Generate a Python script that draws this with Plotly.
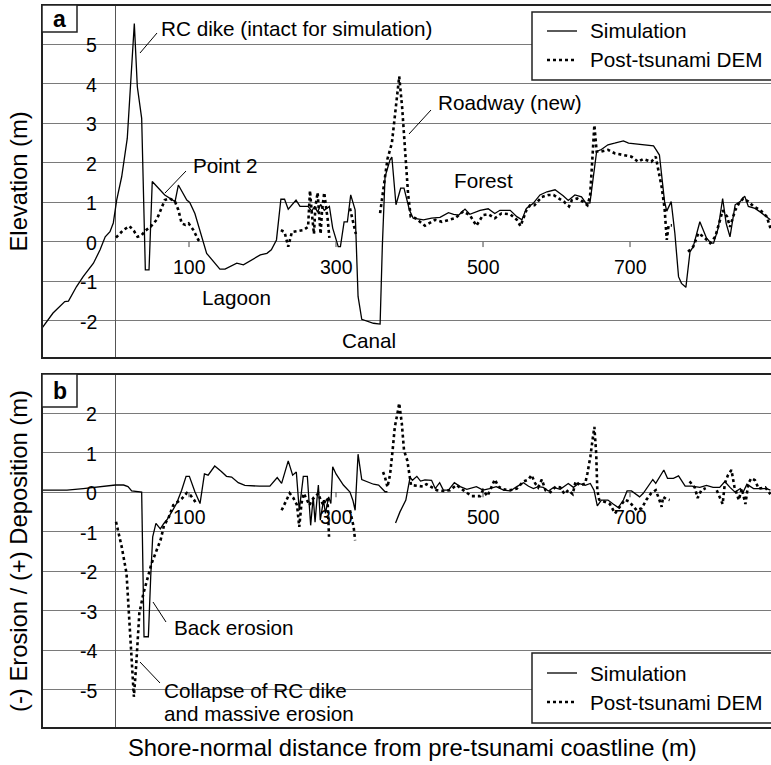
import plotly.graph_objects as go

# ---------------- data ----------------
# Panel a: elevation profile (m)
sim_a_x = [-100, -85, -69, -64, -53, -44, -30, -21, -14, -7.5, -3, 1.6, 8.4, 16, 25.6, 29.7, 35.6, 40.6, 45.6, 50,
           67, 81, 85.5, 97, 101, 108, 124, 142, 149, 165, 174, 186, 197, 206, 212, 219, 225, 230, 235, 245.6,
           251, 262, 267, 271, 275, 279, 284, 291, 295.5, 303, 306, 311, 315.5, 320, 326, 330, 335, 351, 360, 363,
           366.7, 373.5, 376, 381.6, 388, 392.5, 400, 405, 419, 430, 441.5, 453, 460, 467, 475.5, 482, 496, 507, 516, 523,
           537, 546, 553, 559, 568, 577.5, 587, 598, 609, 616, 625, 634, 640, 645.5, 654.6, 661, 670, 679, 691, 698,
           709, 723, 732, 736, 740, 747, 750, 756, 761, 766, 770, 776, 781.6, 786, 795, 804, 810, 813.7, 820, 826,
           830.8, 836, 843, 849.8, 856, 861, 870, 877, 886, 891]
sim_a_y = [-2.18, -1.8, -1.51, -1.5, -1.13, -0.88, -0.54, -0.2, 0.13, 0.26, 0.48, 1.06, 1.65, 2.62, 5.53, 3.93, 3.13, -0.71, -0.71, 1.53,
           1.19, 1.02, 1.44, 1.06, 1.0, 0.72, -0.29, -0.69, -0.69, -0.54, -0.58, -0.45, -0.33, -0.29, -0.2, 0.05, 1.08, 1.08, 0.83, 1.06,
           0.9, 0.9, 0.78, 0.9, 0.75, 0.95, 0.8, 0.9, 0.35, -0.12, -0.12, 0.51, 0.51, 1.19, 0.81, -1.38, -1.96, -2.06, -2.08, -0.12,
           1.65, 2.08, 2.15, 0.94, 1.36, 1.36, 0.8, 0.6, 0.56, 0.6, 0.62, 0.74, 0.7, 0.68, 0.83, 0.7, 0.8, 0.84, 0.72, 0.8,
           0.8, 0.64, 0.56, 0.85, 0.97, 1.19, 1.27, 1.32, 1.17, 1.05, 1.19, 1.14, 0.98, 0.99, 2.29, 2.34, 2.46, 2.5, 2.56, 2.5,
           2.48, 2.46, 2.43, 2.32, 2.2, 1.02, 0.78, 1.02, 0.22, -0.88, -1.05, -1.15, -0.25, -0.12, 0.51, 0.1, -0.03, -0.03, 0.35, 1.1,
           0.47, 0.13, 0.94, 1.02, 1.16, 0.9, 0.85, 0.76, 0.64, 0.56]

dem_a_x = [0.7, 10.6, 19, 25, 30, 35, 41, 48, 56, 61.5, 67, 74, 81, 85.5, 90, 95, 99.5, 106, 112.7, 116, None,
           225, 230, 235, 240, 246, 255.5, 262, 264.6, 267, 270, 272, 275, 277, 279, 281, 284, 287, 288.5, 291, None,
           319, 323, 327, None,
           360, 366, 370, 376, 382.6, 386, 390, 394, 398, 401.6, 408, 421, 435, 444, 455, 462, 473, 482, 491, 500,
           507, 516, 525, 537, 546, 551, 559, 564, 570, 580, 589, 596, 603, 610, 617, 621, 628, 636, 642, 645.6,
           648.7, 651.5, 654.6, 661, 670, 679.6, 691, 702, 711, 718, 729, 735, 738.5, 743, 747, 750, 752.5, 757, None,
           779, 786, 793, 800, 809, 816, 823, 826, 832, 836, 843, 848, 854, 861, 868, 877, 886, 891]
dem_a_y = [0.11, 0.3, 0.4, 0.28, 0.13, 0.16, 0.29, 0.39, 0.56, 0.81, 1.06, 1.1, 1.02, 0.81, 0.47, 0.43, 0.47, 0.3, 0.05, -0.02, None,
           0.3, 0.25, -0.12, 0.25, 0.27, 0.3, 0.38, 1.3, 0.75, 0.2, 0.9, 1.25, 0.7, 0.2, 0.8, 1.25, 0.8, 0.6, 0.1, None,
           0.85, 0.55, 0.2, None,
           0.73, 1.6, 2.1, 2.5, 3.6, 4.19, 3.4, 2.33, 1.23, 0.64, 0.6, 0.41, 0.56, 0.51, 0.56, 0.6, 0.77, 0.68, 0.41, 0.68,
           0.7, 0.6, 0.72, 0.7, 0.56, 0.4, 0.8, 0.93, 0.93, 1.14, 1.19, 1.19, 1.1, 1.02, 0.9, 1.06, 1.1, 1.02, 0.93, 1.15,
           2.08, 2.96, 2.29, 2.29, 2.33, 2.24, 2.2, 2.16, 2.03, 2.1, 2.03, 2.16, 1.82, 1.4, 0.85, 0.05, 0.42, 0.42, None,
           -0.25, -0.12, 0.22, 0.13, -0.03, 0.13, 0.59, 0.8, 0.64, 0.38, 0.8, 0.97, 1.1, 1.02, 0.9, 0.81, 0.64, 0.35]

# Panel b: erosion (-) / deposition (+) (m)
sim_b_x = [-100, -66, -44, -30, -16.6, 0, 11, 17, 22, 33, 35.6, 38.8, 44.7, 47.9, 50.6, 55, 61, 65.5, 70, 76.5,
           83, 90, 96, 100.5, 108, 115, 121, 126, 135, 144, 151, 158, 167, 176, 187, 196, 210, 220, 226, 235,
           241, 246, 250, 255.5, 261, 265.5, 269, 271.5, 274, 276, 278.6, 283, 285.6, 290, 293, 295.5, 300, 310, 319, 323,
           326, 330, 335, 342, 351, 358, 364, 366.7, 370, None,
           381, 387, 395, 398, 400.7, 404, 410, 415, 421, 430, 435, 441, 446, 453, 461, 469, 478, 491, 500, 509,
           518, 528, 537, 546, 555, 562, 568.6, 575, 582, 589, 596, 605, 616, 623, 630, 639, 646, 651, 655.5, 661,
           670, 677, 684, 691, 696, 702, 708, 713, 718, 724.6, 731, 735, 740, 746, 751, 759, 766, 775, 784, 795,
           804, 813, 822, 829, 836, 843, 850, 854, 859, 868, 877, 886, 891]
sim_b_y = [0.05, 0.05, 0.09, 0.12, 0.15, 0.18, 0.18, 0.14, 0.03, 0.0, 0.0, -3.66, -3.66, -2.14, -1.13, -0.79, -0.93, -0.8, -0.7, -0.5,
           -0.29, 0.05, 0.4, 0.4, 0.01, -0.29, 0.46, 0.43, 0.66, 0.52, 0.4, 0.38, 0.24, 0.17, 0.15, 0.15, 0.15, 0.37, 0.22, 0.79,
           0.43, 0.51, -0.46, 0.4, 0.4, -0.84, -0.12, -0.76, -0.2, 0.18, -0.71, -0.2, -0.54, -0.12, -0.29, 0.64, 0.46, 0.18, 0.0, -0.21,
           -0.46, 0.96, 0.32, 0.26, 0.2, 0.18, 0.05, 0.01, 0.01, None,
           -0.78, -0.5, -0.2, 0.14, 0.37, 0.3, 0.4, 0.28, 0.31, 0.3, 0.09, 0.24, 0.05, 0.05, 0.24, 0.14, 0.07, 0.14, 0.05, 0.09,
           0.14, 0.05, 0.03, 0.14, 0.24, 0.15, 0.09, 0.14, 0.12, 0.03, 0.12, 0.07, 0.22, 0.12, 0.22, 0.17, 0.22, 0.05, -0.35, -0.2,
           -0.2, -0.3, -0.39, -0.2, 0.03, 0.03, -0.05, -0.12, -0.03, 0.15, 0.32, 0.22, 0.37, 0.56, 0.35, 0.35, 0.41, 0.15, 0.15, 0.12,
           0.17, 0.12, 0.12, 0.27, 0.12, 0.0, 0.09, 0.0, 0.2, 0.09, 0.09, 0.09, 0.05]

dem_b_x = [0.7, 8.4, 15, 19.7, 23.4, 25, 28, 32.4, 37.9, 43, 49, 56, 61.5, 66, 72, 78.6, 84, 90, 97, 102, 107, 110, None,
           226, 232, 237, 242, 247, 250, 253, 256, 260, 264, 267, 271.5, 276, 279, 283, 286.6, 288.5, 290.5, None,
           319, 324, 326, None,
           364, 366.7, 370, 373.5, 377, 380, 383.6, 386, 389.5, 392.5, 397, 400, 402, 418.6, 423, 437, 446, 455, 464, 473,
           484.6, 496, 500, 506, 512, 516, 521, 528, 537, 546, 555, 562, 566, 571, 575, 580, 585, 591.7, 599, 605,
           611, 616, 622, 626, 632, 639, 642, 646, 649, 651.5, 654, 655.5, 658, 666, 672.5, 679.6, 686, 693, 699, 705,
           709, 716, 722, 729, 735, 740, 743, 745, 749, 754, None,
           781, 788, 792, 797, 803, None,
           818, 826, 829, 833, 838, 842, 848, 852, 857, 861, 865, 870, 875, 884, 891]
dem_b_y = [-0.75, -1.38, -2.06, -3.58, -4.93, -5.18, -4.42, -3.07, -2.57, -2.22, -1.81, -1.47, -1.2, -0.84, -0.66, -0.33, -0.25, -0.17, -0.02, -0.08, -0.2, -0.3, None,
           -0.46, -0.2, -0.03, -0.15, -0.33, -0.88, -0.29, -0.03, -0.2, -0.33, -0.2, -0.12, -0.03, -0.2, -0.33, -0.15, -0.2, -1.13, None,
           -0.46, -0.88, -1.22, None,
           0.51, 0.37, 0.13, 0.44, 1.06, 1.65, 1.99, 2.25, 1.74, 1.06, 0.8, 0.37, 0.18, 0.14, 0.2, 0.05, 0.03, 0.05, 0.18, 0.05,
           -0.1, -0.1, 0.05, -0.1, 0.18, 0.32, 0.14, 0.07, 0.05, 0.09, 0.27, 0.32, 0.43, 0.22, 0.12, 0.32, 0.05, 0.0, 0.14, 0.12,
           -0.05, 0.05, -0.05, 0.27, 0.17, 0.22, 0.47, 0.89, 1.32, 1.65, 0.97, 0.05, -0.19, -0.24, -0.3, -0.54, -0.37, -0.19, -0.24, -0.37,
           -0.46, -0.41, -0.2, -0.02, 0.05, -0.2, -0.37, -0.12, -0.17, -0.2, None,
           0.27, 0.12, -0.15, 0.05, 0.1, None,
           0.05, -0.3, 0.22, 0.42, 0.56, 0.14, -0.2, 0.09, -0.3, 0.22, 0.35, 0.3, 0.09, 0.12, -0.05]

x_tick_vals = [100, 300, 500, 700]
y_ticks_a = [-2, -1, 0, 1, 2, 3, 4, 5]
y_ticks_b = [-5, -4, -3, -2, -1, 0, 1, 2]
series_names = ["Simulation", "Post-tsunami DEM"]

# ---------------- layout helpers ----------------
W, H = 771, 765
FONT = "Liberation Sans, Arial, sans-serif"
X_RANGE = [-100, 891.8]
YA_RANGE = [-2.94, 6.0]
YB_RANGE = [-5.97, 2.99]
PL, PT_A, PB_A, PT_B, PB_B = 42, 5, 358, 374, 728
TXT = 20.7
TITLE = 23.8


def fx(p):
    return p / W


def fy(p):
    return 1 - p / H


fig = go.Figure()
sim_line = dict(color="black", width=1.3)
dem_line = dict(color="black", width=2.6, dash="dot")

fig.add_trace(go.Scatter(x=sim_a_x, y=sim_a_y, mode="lines", line=sim_line, name=series_names[0],
                         xaxis="x", yaxis="y", showlegend=False, connectgaps=False))
fig.add_trace(go.Scatter(x=dem_a_x, y=dem_a_y, mode="lines", line=dem_line, name=series_names[1],
                         xaxis="x", yaxis="y", showlegend=False, connectgaps=False))
fig.add_trace(go.Scatter(x=sim_b_x, y=sim_b_y, mode="lines", line=sim_line, name=series_names[0],
                         xaxis="x2", yaxis="y2", showlegend=False, connectgaps=False))
fig.add_trace(go.Scatter(x=dem_b_x, y=dem_b_y, mode="lines", line=dem_line, name=series_names[1],
                         xaxis="x2", yaxis="y2", showlegend=False, connectgaps=False))

xax = dict(range=X_RANGE, domain=[fx(PL), 1.0], showgrid=False, showticklabels=False, ticks="",
           zeroline=True, zerolinecolor="#555", zerolinewidth=1, showline=False, fixedrange=True)
yax_common = dict(showgrid=True, gridcolor="#7a7a7a", gridwidth=1, dtick=1, tick0=0,
                  zeroline=True, zerolinecolor="#7a7a7a", zerolinewidth=1,
                  showticklabels=False, ticks="", showline=False, fixedrange=True)

fig.update_layout(
    width=W, height=H,
    margin=dict(l=0, r=0, t=0, b=0),
    paper_bgcolor="white", plot_bgcolor="white",
    font=dict(family=FONT, color="black"),
    xaxis=dict(xax, anchor="y"),
    yaxis=dict(yax_common, range=YA_RANGE, domain=[fy(PB_A), fy(PT_A)], anchor="x"),
    xaxis2=dict(xax, anchor="y2"),
    yaxis2=dict(yax_common, range=YB_RANGE, domain=[fy(PB_B), fy(PT_B)], anchor="x2"),
)

shapes = []
ann = []

# panel frames
for top, bot in [(PT_A, PB_A), (PT_B, PB_B)]:
    shapes.append(dict(type="rect", xref="paper", yref="paper", x0=fx(PL), x1=fx(W + 5), y0=fy(bot), y1=fy(top),
                       line=dict(color="#222", width=2), fillcolor="rgba(0,0,0,0)", layer="above"))

# x tick marks and labels (inside, below the zero line)
for xr, yr in [("x", "y"), ("x2", "y2")]:
    for v in x_tick_vals:
        shapes.append(dict(type="line", xref=xr, yref=yr, x0=v, x1=v, y0=0, y1=-0.13,
                           line=dict(color="#444", width=1), layer="above"))
        ann.append(dict(xref=xr, yref=yr, x=v, y=0, yshift=-25, text=str(v), showarrow=False,
                        xanchor="center", yanchor="middle", font=dict(size=19.5, family=FONT)))

# y tick labels (inside)
for yr, vals in [("y", y_ticks_a), ("y2", y_ticks_b)]:
    xr = "x" if yr == "y" else "x2"
    for v in vals:
        ann.append(dict(xref=xr, yref=yr, x=-22, y=v, yshift=-1, text=str(v), showarrow=False,
                        xanchor="right", yanchor="middle", font=dict(size=19.5, family=FONT)))

# panel letters
for letter, top, bot in [("a", PT_A, 32), ("b", PT_B, 407)]:
    shapes.append(dict(type="rect", xref="paper", yref="paper", x0=fx(PL), x1=fx(77), y0=fy(bot), y1=fy(top),
                       line=dict(color="#222", width=1.5), fillcolor="white", layer="above"))
    ann.append(dict(xref="paper", yref="paper", x=fx(59.5), y=fy((top + bot) / 2), text="<b>%s</b>" % letter,
                    showarrow=False, xanchor="center", yanchor="middle", font=dict(size=23, family=FONT)))

# legends
for top, bot, r1, r2 in [(12, 80, 31, 60), (653, 723, 673, 702)]:
    shapes.append(dict(type="rect", xref="paper", yref="paper", x0=fx(532), x1=fx(W + 5), y0=fy(bot), y1=fy(top),
                       line=dict(color="#222", width=1.5), fillcolor="white", layer="above"))
    for row, name, style in [(r1, series_names[0], sim_line), (r2, series_names[1], dem_line)]:
        shapes.append(dict(type="line", xref="paper", yref="paper", x0=fx(547), x1=fx(577), y0=fy(row), y1=fy(row),
                           line=style, layer="above"))
        ann.append(dict(xref="paper", yref="paper", x=fx(588), y=fy(row), text=name, showarrow=False,
                        xanchor="left", yanchor="middle", font=dict(size=TXT, family=FONT)))


def label(text, xl, yc, anchor="left"):
    ann.append(dict(xref="paper", yref="paper", x=fx(xl), y=fy(yc), text=text, showarrow=False,
                    xanchor=anchor, yanchor="middle", font=dict(size=TXT, family=FONT)))


def leader(x0, y0, x1, y1):
    shapes.append(dict(type="line", xref="paper", yref="paper", x0=fx(x0), x1=fx(x1), y0=fy(y0), y1=fy(y1),
                       line=dict(color="black", width=1), layer="above"))


label("RC dike (intact for simulation)", 159, 29)
leader(157, 33, 140, 53)
label("Point 2", 191, 165)
leader(186, 171, 165, 193)
label("Lagoon", 236, 298, "center")
label("Canal", 369, 340, "center")
label("Roadway (new)", 436, 103)
leader(431, 110, 409, 134)
label("Forest", 483, 180, "center")
label("Back erosion", 172, 627)
leader(166, 622, 153, 602)
label("Collapse of RC dike", 162, 690)
label("and massive erosion", 162, 713)
leader(160, 683, 140, 662)

# axis titles
ann.append(dict(xref="paper", yref="paper", x=fx(18), y=fy((PT_A + PB_A) / 2), text="Elevation (m)",
                textangle=-90, showarrow=False, xanchor="center", yanchor="middle", font=dict(size=TITLE, family=FONT)))
ann.append(dict(xref="paper", yref="paper", x=fx(18), y=fy((PT_B + PB_B) / 2), text="(-) Erosion / (+) Deposition (m)",
                textangle=-90, showarrow=False, xanchor="center", yanchor="middle", font=dict(size=TITLE, family=FONT)))
ann.append(dict(xref="paper", yref="paper", x=fx(412), y=fy(747),
                text="Shore-normal distance from pre-tsunami coastline (m)",
                showarrow=False, xanchor="center", yanchor="middle", font=dict(size=TITLE, family=FONT)))

fig.update_layout(shapes=shapes, annotations=ann)
fig.write_html("out.html")
